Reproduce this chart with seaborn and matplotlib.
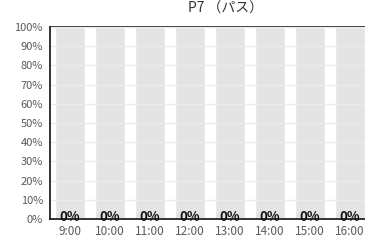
import matplotlib
matplotlib.use('Agg')
import matplotlib.pyplot as plt
import seaborn as sns

# data
times = ['9:00', '10:00', '11:00', '12:00', '13:00', '14:00', '15:00', '16:00']
rates = [0, 0, 0, 0, 0, 0, 0, 0]
full = [100, 100, 100, 100, 100, 100, 100, 100]
yticks = [0, 10, 20, 30, 40, 50, 60, 70, 80, 90, 100]

sns.set_style('white')
plt.rcParams['font.family'] = ['Noto Sans CJK JP', 'DejaVu Sans']

fig = plt.figure(figsize=(3.65, 2.4), dpi=100)
ax = fig.add_axes([50 / 365, 21 / 240, 320 / 365, 192 / 240])

# top line at 100% (partly covered by the background bars)
ax.axhline(100, color='#111111', lw=1.1, zorder=0.5, clip_on=False)

# background 100% bars
sns.barplot(x=times, y=full, color='#e4e4e4', saturation=1, width=0.75,
            ax=ax, zorder=1)
# actual values
sns.barplot(x=times, y=rates, color='#5b8fd0', saturation=1, width=0.75,
            ax=ax, zorder=2)

bars = ax.containers[1]
ax.bar_label(bars, labels=['%d%%' % v for v in rates], padding=-3.5,
             fontsize=9.5, fontweight='bold', color='#111111', zorder=5)

ax.set_xlim(-0.5, len(times) - 0.5)
ax.set_ylim(0, 100)
ax.set_yticks(yticks)
ax.set_yticklabels(['%d%%' % v for v in yticks])

ax.yaxis.grid(True, color='#ebebeb', lw=1)
ax.set_axisbelow(False)
for ln in ax.get_ygridlines():
    ln.set_zorder(3)

ax.tick_params(axis='both', length=0, colors='#5a5a5a')
ax.tick_params(axis='x', pad=4.5, labelsize=8.5)
ax.tick_params(axis='y', pad=5, labelsize=8)

ax.spines['top'].set_visible(False)
ax.spines['right'].set_visible(False)
ax.spines['left'].set_color('#111111')
ax.spines['bottom'].set_color('#111111')
ax.spines['left'].set_linewidth(1.2)
ax.spines['bottom'].set_linewidth(1.2)
ax.spines['left'].set_zorder(6)
ax.spines['bottom'].set_zorder(6)
ax.set_xlabel('')
ax.set_ylabel('')

fig.text(225 / 365, 1 - 9 / 240, 'P7 （パス）', ha='center', va='center',
         fontsize=10, color='#333333')

fig.savefig('out.png', dpi=100)
plt.close()
